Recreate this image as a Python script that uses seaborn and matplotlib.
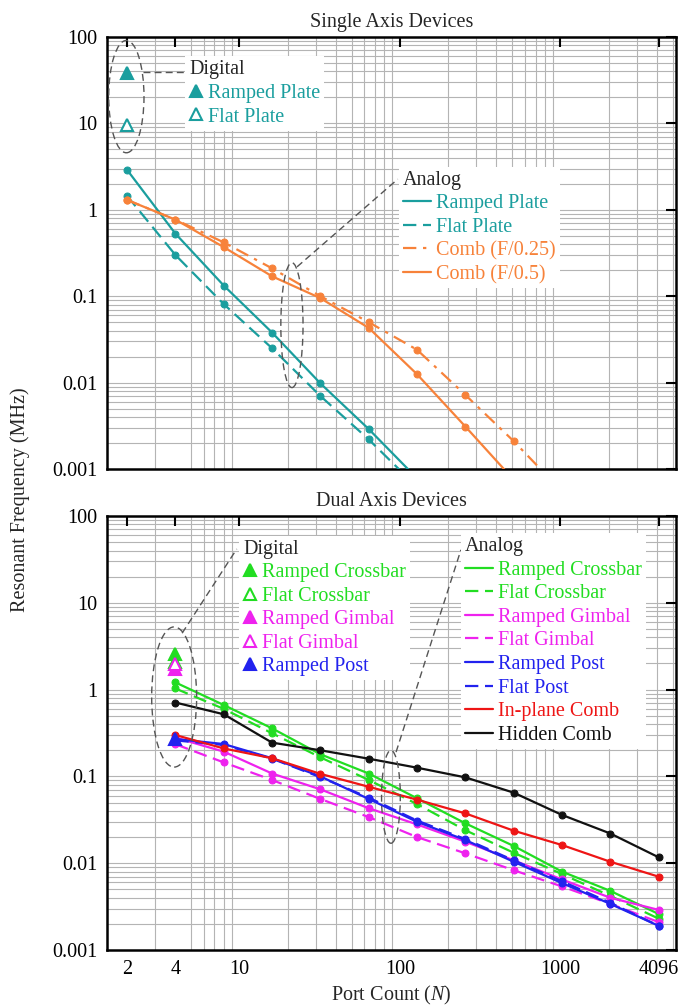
import matplotlib
matplotlib.use("Agg")
import matplotlib.pyplot as plt
from matplotlib.lines import Line2D
from matplotlib.patches import Ellipse
from matplotlib.ticker import FixedLocator, LogLocator, NullFormatter, FuncFormatter
import seaborn as sns

# ---- data ----
x_single = [2, 4, 8, 16, 32, 64, 128]
ramped_plate = [2.9, 0.53, 0.133, 0.038, 0.0098, 0.0029, 0.00078]
flat_plate = [1.45, 0.30, 0.081, 0.025, 0.0070, 0.0022, 0.00062]

x_comb = [2, 4, 8, 16, 32, 64, 128, 256, 512, 1024]
comb_f025 = [1.3, 0.77, 0.42, 0.21, 0.10, 0.050, 0.024, 0.0072, 0.0021, 0.00055]
comb_f05 = [1.3, 0.77, 0.37, 0.17, 0.095, 0.043, 0.0125, 0.0031, 0.00075]

digital_single_x = [2]
digital_ramped_plate = [38]
digital_flat_plate = [9.5]

x_dual = [4, 8, 16, 32, 64, 128, 256, 512, 1024, 2048, 4096]
ramped_crossbar = [1.21, 0.665, 0.358, 0.18, 0.108, 0.056, 0.0288, 0.0158, 0.0080, 0.0048, 0.0026]
flat_crossbar = [1.03, 0.60, 0.314, 0.166, 0.091, 0.048, 0.024, 0.0132, 0.0075, 0.0042, 0.0023]
ramped_gimbal = [0.28, 0.193, 0.108, 0.071, 0.043, 0.028, 0.0177, 0.0108, 0.0065, 0.0040, 0.0029]
flat_gimbal = [0.235, 0.145, 0.091, 0.055, 0.034, 0.020, 0.013, 0.0083, 0.0054, 0.0034, 0.0021]
ramped_post = [0.27, 0.236, 0.162, 0.10, 0.055, 0.030, 0.0185, 0.0104, 0.0059, 0.0034, 0.0019]
flat_post = [0.26, 0.23, 0.16, 0.098, 0.057, 0.031, 0.019, 0.0108, 0.0062, 0.0035, 0.0019]
inplane_comb = [0.30, 0.21, 0.162, 0.107, 0.076, 0.054, 0.0375, 0.0237, 0.0162, 0.0104, 0.0070]
hidden_comb = [0.71, 0.52, 0.245, 0.20, 0.16, 0.126, 0.0975, 0.065, 0.036, 0.022, 0.0117]

digital_dual_x = [4]
digital_ramped_crossbar = [2.6]
digital_flat_crossbar = [2.1]
digital_ramped_gimbal = [1.72]
digital_flat_gimbal = [1.95]
digital_ramped_post = [0.27]

x_ticks = [2, 4, 10, 100, 1000, 4096]
y_ticks = [0.001, 0.01, 0.1, 1, 10, 100]

TEAL = "#1a9e9e"
ORANGE = "#f7823a"
GREEN = "#22dd22"
MAGENTA = "#ee22ee"
BLUE = "#2222ee"
RED = "#ee1515"
BLACK = "#111111"
DASH = (0, (6, 3))
DASHDOT = (0, (6, 3, 1.5, 3))

sns.set_style("white")
plt.rcParams["font.family"] = ["Liberation Serif", "DejaVu Serif"]
plt.rcParams["mathtext.fontset"] = "custom"
plt.rcParams["mathtext.rm"] = "Liberation Serif"
plt.rcParams["mathtext.it"] = "Liberation Serif:italic"
FS = 14.5

fig = plt.figure(figsize=(6.86, 10.08), dpi=100)
ax1 = fig.add_axes([0.156, 0.5347, 0.8294, 0.4286])
ax2 = fig.add_axes([0.156, 0.0575, 0.8294, 0.4306])


def style_axes(ax, show_xlabels):
    ax.set_xscale("log")
    ax.set_yscale("log")
    ax.set_xlim(1.5, 5250)
    ax.set_ylim(0.001, 100)
    ax.xaxis.set_major_locator(FixedLocator(x_ticks))
    ax.xaxis.set_minor_locator(LogLocator(base=10, subs=range(1, 10), numticks=20))
    ax.yaxis.set_major_locator(FixedLocator(y_ticks))
    ax.yaxis.set_minor_locator(LogLocator(base=10, subs=range(2, 10), numticks=20))
    ax.xaxis.set_minor_formatter(NullFormatter())
    ax.yaxis.set_minor_formatter(NullFormatter())
    ax.yaxis.set_major_formatter(FuncFormatter(lambda v, p: f"{v:g}"))
    if show_xlabels:
        ax.xaxis.set_major_formatter(FuncFormatter(lambda v, p: f"{v:g}"))
    else:
        ax.xaxis.set_major_formatter(NullFormatter())
    # grid drawn by hand, under the tick marks
    lo, hi = ax.get_xlim()
    for v in ax.xaxis.get_minorticklocs():
        if lo < v < hi:
            ax.axvline(v, color="#b4b4b4", lw=0.8, zorder=0.5)
    lo, hi = ax.get_ylim()
    for v in list(ax.yaxis.get_minorticklocs()) + y_ticks:
        if lo < v < hi:
            ax.axhline(v, color="#b4b4b4", lw=0.8, zorder=0.5)
    ax.tick_params(which="major", direction="in", length=7, width=1.5,
                   top=True, right=True, labelsize=FS, pad=7, colors="black")
    ax.tick_params(which="minor", length=0)
    for s in ax.spines.values():
        s.set_linewidth(1.8)
        s.set_color("black")


def line(ax, x, y, color, ls="-"):
    sns.lineplot(x=x, y=y, ax=ax, color=color, linestyle=ls, lw=1.6,
                 marker="o", markersize=5, markeredgecolor=color,
                 estimator=None, sort=False, legend=False, zorder=3)


def tri(ax, x, y, color, filled=True):
    sns.lineplot(x=x, y=y, ax=ax, color=color, linestyle="none",
                 marker="^", markersize=9,
                 markerfacecolor=color if filled else "white",
                 markeredgecolor=color, markeredgewidth=1.5,
                 estimator=None, legend=False, zorder=4)


def frac_ellipse(ax, cx, cy, w, h):
    ax.add_patch(Ellipse((cx, cy), w, h, transform=ax.transAxes, fill=False,
                         ls=(0, (5, 3)), lw=1.0, ec="#555555", zorder=5))


def leader(ax, p0, p1):
    ax.plot([p0[0], p1[0]], [p0[1], p1[1]], transform=ax.transAxes,
            ls=(0, (5, 3)), lw=1.0, color="#555555", zorder=5)


def legend(ax, title, entries, anchor, hlen):
    handles = []
    for lab, col, ls, mk, mfc in entries:
        handles.append(Line2D([], [], color=col, ls=ls, lw=1.6, marker=mk,
                              markersize=9, markerfacecolor=mfc,
                              markeredgecolor=col, markeredgewidth=1.5, label=lab))
    leg = ax.legend(handles=handles, title=title, loc="upper left",
                    bbox_to_anchor=anchor, fontsize=FS, title_fontsize=FS,
                    frameon=True, framealpha=1, facecolor="white", edgecolor="none",
                    fancybox=False, handlelength=hlen, handletextpad=0.25,
                    labelspacing=0.22, borderpad=0.2, borderaxespad=0,
                    alignment="left")
    for t, (lab, col, *_) in zip(leg.get_texts(), entries):
        t.set_color(col)
    leg.set_zorder(6)
    return leg


# ---- top: single axis ----
style_axes(ax1, False)
line(ax1, x_single, ramped_plate, TEAL)
line(ax1, x_single, flat_plate, TEAL, DASH)
line(ax1, x_comb, comb_f025, ORANGE, DASHDOT)
line(ax1, x_comb[:len(comb_f05)], comb_f05, ORANGE)
tri(ax1, digital_single_x, digital_ramped_plate, TEAL, True)
tri(ax1, digital_single_x, digital_flat_plate, TEAL, False)
ax1.set_title("Single Axis Devices", fontsize=FS, pad=7)

frac_ellipse(ax1, 0.034, 0.862, 0.062, 0.26)
leader(ax1, (0.064, 0.919), (0.137, 0.919))
frac_ellipse(ax1, 0.325, 0.333, 0.039, 0.289)
leader(ax1, (0.334, 0.468), (0.511, 0.671))

l1 = legend(ax1, "Digital", [
    ("Ramped Plate", TEAL, "none", "^", TEAL),
    ("Flat Plate", TEAL, "none", "^", "white"),
], (0.137, 0.955), 0.7)
ax1.add_artist(l1)
legend(ax1, "Analog", [
    ("Ramped Plate", TEAL, "-", None, TEAL),
    ("Flat Plate", TEAL, DASH, None, TEAL),
    ("Comb (F/0.25)", ORANGE, DASHDOT, None, ORANGE),
    ("Comb (F/0.5)", ORANGE, "-", None, ORANGE),
], (0.513, 0.700), 1.4)

# ---- bottom: dual axis ----
style_axes(ax2, True)
line(ax2, x_dual, ramped_crossbar, GREEN)
line(ax2, x_dual, flat_crossbar, GREEN, DASH)
line(ax2, x_dual, ramped_gimbal, MAGENTA)
line(ax2, x_dual, flat_gimbal, MAGENTA, DASH)
line(ax2, x_dual, flat_post, BLUE, DASH)
line(ax2, x_dual, ramped_post, BLUE)
line(ax2, x_dual, inplane_comb, RED)
line(ax2, x_dual, hidden_comb, BLACK)
tri(ax2, digital_dual_x, digital_ramped_crossbar, GREEN, True)
tri(ax2, digital_dual_x, digital_flat_crossbar, GREEN, False)
tri(ax2, digital_dual_x, digital_ramped_gimbal, MAGENTA, True)
tri(ax2, digital_dual_x, digital_flat_gimbal, MAGENTA, False)
tri(ax2, digital_dual_x, digital_ramped_post, BLUE, True)
ax2.set_title("Dual Axis Devices", fontsize=FS, pad=7)
ax2.set_xlabel("Port Count ($N$)", fontsize=FS, labelpad=4)

frac_ellipse(ax2, 0.118, 0.583, 0.079, 0.323)
leader(ax2, (0.132, 0.730), (0.228, 0.924))
frac_ellipse(ax2, 0.499, 0.353, 0.033, 0.214)
leader(ax2, (0.508, 0.456), (0.622, 0.922))

l2 = legend(ax2, "Digital", [
    ("Ramped Crossbar", GREEN, "none", "^", GREEN),
    ("Flat Crossbar", GREEN, "none", "^", "white"),
    ("Ramped Gimbal", MAGENTA, "none", "^", MAGENTA),
    ("Flat Gimbal", MAGENTA, "none", "^", "white"),
    ("Ramped Post", BLUE, "none", "^", BLUE),
], (0.232, 0.955), 0.7)
ax2.add_artist(l2)
legend(ax2, "Analog", [
    ("Ramped Crossbar", GREEN, "-", None, GREEN),
    ("Flat Crossbar", GREEN, DASH, None, GREEN),
    ("Ramped Gimbal", MAGENTA, "-", None, MAGENTA),
    ("Flat Gimbal", MAGENTA, DASH, None, MAGENTA),
    ("Ramped Post", BLUE, "-", None, BLUE),
    ("Flat Post", BLUE, DASH, None, BLUE),
    ("In-plane Comb", RED, "-", None, RED),
    ("Hidden Comb", BLACK, "-", None, BLACK),
], (0.622, 0.960), 1.4)

fig.text(0.03, 0.504, "Resonant Frequency (MHz)", rotation=90,
         ha="center", va="center", fontsize=FS)

fig.savefig("out.png", dpi=100)
